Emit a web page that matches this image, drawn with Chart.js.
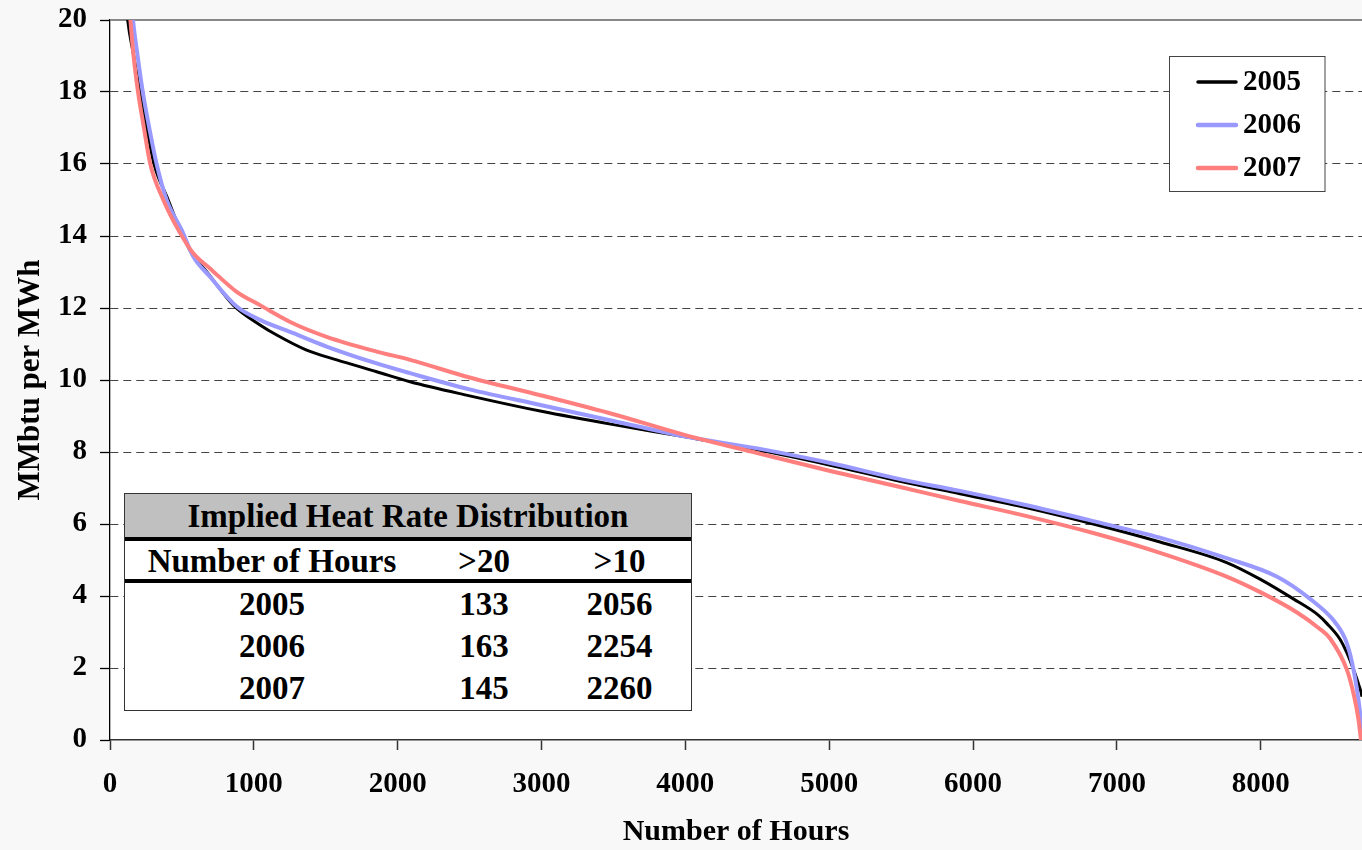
<!DOCTYPE html>
<html>
<head>
<meta charset="utf-8">
<script src="https://cdn.jsdelivr.net/npm/chart.js@4.4.1/dist/chart.umd.min.js"></script>
<style>
html, body { margin: 0; padding: 0; background: #f8f8f8; }
#wrap { position: relative; width: 1362px; height: 850px; overflow: hidden; }
canvas { display: block; }
#tbl { position: absolute; left: 124px; top: 493px; width: 568px; height: 218px; box-sizing: border-box;
  border: 1.5px solid #333; background: #fff; color: #000;
  font-family: 'Liberation Serif', 'Times New Roman', serif; font-weight: bold; font-size: 33px; }
#tbl .hdr { height: 43px; line-height: 45px; background: #c0c0c0; text-align: center; }
#tbl .rule { height: 4px; background: #000; }
#tbl .row { display: flex; }
#tbl .row div { text-align: center; }
#tbl .c1 { width: 294px; }
#tbl .c2 { width: 130px; }
#tbl .c3 { width: 141px; }
</style>
</head>
<body>
<div id="wrap">
  <canvas id="c" width="1362" height="850"></canvas>
  <div id="tbl"></div>
</div>
<script>
// ---- data ----
const seriesLabels = ['2005', '2006', '2007'];

const hours2005 = [90, 123, 165, 208, 255, 306, 405, 487, 568, 672, 857, 1043, 1159, 1367, 1576, 1854, 2086, 2500, 3000, 3500, 4000, 4500, 5000, 5500, 5909, 6373, 6836, 7300, 7763, 7995, 8227, 8400, 8459, 8551, 8600, 8650, 8680, 8704, 8740];
const mmbtu2005 = [21.5, 20, 19, 18, 17, 16, 15, 14.17, 13.52, 13.01, 12.08, 11.53, 11.25, 10.83, 10.56, 10.23, 9.95, 9.56, 9.13, 8.76, 8.42, 8.06, 7.64, 7.18, 6.84, 6.45, 6.00, 5.50, 4.93, 4.47, 3.92, 3.47, 3.24, 2.80, 2.41, 1.90, 1.55, 1.2, 0];

const hours2006 = [130, 160, 192, 228, 273, 324, 394, 498, 579, 695, 881, 1043, 1275, 1506, 1854, 2086, 2500, 3000, 3500, 4000, 4500, 5000, 5500, 5909, 6373, 6836, 7300, 7763, 8111, 8343, 8505, 8586, 8620, 8650, 8680, 8712];
const mmbtu2006 = [21.5, 20, 19, 18, 17, 16, 15, 14.17, 13.43, 12.87, 12.04, 11.67, 11.30, 10.93, 10.46, 10.19, 9.74, 9.30, 8.86, 8.43, 8.10, 7.70, 7.24, 6.92, 6.52, 6.08, 5.62, 5.05, 4.54, 3.92, 3.33, 2.82, 2.40, 1.85, 1.10, 0];

const hours2007 = [115, 142, 164, 195, 236, 280, 371, 475, 579, 695, 881, 1043, 1275, 1506, 1854, 2086, 2500, 3000, 3500, 4000, 4500, 5000, 5500, 5909, 6373, 6836, 7300, 7763, 8000, 8250, 8400, 8482, 8600, 8650, 8680, 8697];
const mmbtu2007 = [21.5, 20, 19, 18, 17, 16, 15, 14.17, 13.52, 13.1, 12.45, 12.08, 11.57, 11.20, 10.79, 10.56, 10.07, 9.57, 9.05, 8.47, 7.97, 7.48, 7.02, 6.64, 6.22, 5.75, 5.20, 4.54, 4.10, 3.55, 3.12, 2.82, 1.94, 1.20, 0.56, 0];

const xTickValues = [0, 1000, 2000, 3000, 4000, 5000, 6000, 7000, 8000];
const yTickValues = [0, 2, 4, 6, 8, 10, 12, 14, 16, 18, 20];

// table
const tableTitle = 'Implied Heat Rate Distribution';
const tableHeaders = ['Number of Hours', '>20', '>10'];
const tableYears = ['2005', '2006', '2007'];
const hoursOver20 = [133, 163, 145];
const hoursOver10 = [2056, 2254, 2260];

// ---- table (HTML) ----
(function buildTable() {
  const t = document.getElementById('tbl');
  let html = '<div class="hdr">' + tableTitle + '</div><div class="rule"></div>';
  html += '<div class="row" style="height:38px;line-height:40px">' +
    tableHeaders.map((h, i) => '<div class="c' + (i + 1) + '">' + h.replace('>', '&gt;') + '</div>').join('') + '</div>';
  html += '<div class="rule"></div>';
  tableYears.forEach((y, i) => {
    html += '<div class="row" style="height:42px;line-height:43px"><div class="c1">' + y + '</div><div class="c2">' +
      hoursOver20[i] + '</div><div class="c3">' + hoursOver10[i] + '</div></div>';
  });
  t.innerHTML = html;
})();

// ---- chart ----
const FONT_FAMILY = "'Liberation Serif', 'Times New Roman', serif";
const tickFont = { family: FONT_FAMILY, size: 29, weight: 'bold' };

const bgPlugin = {
  id: 'bg',
  beforeDraw(chart) {
    const { ctx, chartArea: a } = chart;
    ctx.save();
    ctx.fillStyle = '#f8f8f8';
    ctx.fillRect(0, 0, chart.width, chart.height);
    ctx.fillStyle = '#ffffff';
    ctx.fillRect(a.left, a.top, a.right - a.left, a.bottom - a.top);
    ctx.restore();
  },
  beforeDatasetsDraw(chart) {
    const { ctx, chartArea: a } = chart;
    ctx.save();
    ctx.strokeStyle = '#888888';
    ctx.lineWidth = 2;
    ctx.beginPath();
    ctx.moveTo(a.left, a.top);
    ctx.lineTo(a.right, a.top);
    ctx.stroke();
    ctx.restore();
  }
};

const legendPlugin = {
  id: 'boxLegend',
  afterDatasetsDraw(chart) {
    const ctx = chart.ctx;
    const bx = 1169.5, by = 56.5, bw = 155.5, bh = 135;
    ctx.save();
    ctx.fillStyle = '#ffffff';
    ctx.fillRect(bx, by, bw, bh);
    ctx.strokeStyle = '#444444';
    ctx.lineWidth = 1;
    ctx.strokeRect(bx, by, bw, bh);
    const rows = [82, 125, 168];
    chart.data.datasets.forEach((ds, i) => {
      const y = rows[i];
      ctx.strokeStyle = ds.borderColor;
      ctx.lineWidth = ds.borderWidth + 0.5;
      ctx.lineCap = 'round';
      ctx.beginPath();
      ctx.moveTo(1198, y);
      ctx.lineTo(1236, y);
      ctx.stroke();
      ctx.fillStyle = '#000';
      ctx.font = 'bold 29px ' + FONT_FAMILY;
      ctx.textAlign = 'left';
      ctx.textBaseline = 'middle';
      ctx.fillText(ds.label, 1243, y + 1);
    });
    ctx.restore();
  }
};

function toPoints(xs, ys) { return xs.map((x, i) => ({ x: x, y: ys[i] })); }

new Chart(document.getElementById('c'), {
  type: 'line',
  data: {
    datasets: [
      { label: seriesLabels[0], data: toPoints(hours2005, mmbtu2005), borderColor: '#000000', borderWidth: 3, order: 3 },
      { label: seriesLabels[1], data: toPoints(hours2006, mmbtu2006), borderColor: '#9999ff', borderWidth: 4, order: 2 },
      { label: seriesLabels[2], data: toPoints(hours2007, mmbtu2007), borderColor: '#ff7f7f', borderWidth: 4, order: 1 }
    ]
  },
  options: {
    responsive: false,
    animation: false,
    devicePixelRatio: 1,
    layout: { padding: { top: 20, right: 0, bottom: 0, left: 0 } },
    elements: { point: { radius: 0 }, line: { cubicInterpolationMode: 'monotone', fill: false } },
    plugins: { legend: { display: false }, tooltip: { enabled: false } },
    scales: {
      x: {
        type: 'linear', min: 0, max: 8704,
        afterBuildTicks: s => { s.ticks = xTickValues.map(v => ({ value: v })); },
        afterFit: s => { s.height = 110; s.paddingLeft = 0; s.paddingRight = 0; },
        ticks: { padding: 17, color: '#000', font: tickFont, maxRotation: 0, minRotation: 0, autoSkip: false,
          callback: v => String(v) },
        grid: { drawOnChartArea: false, drawTicks: true, tickLength: 10, tickColor: '#333', tickWidth: 1.5 },
        border: { display: true, color: '#333', width: 1.5 },
        title: { display: true, text: 'Number of Hours', color: '#000',
          font: { family: FONT_FAMILY, size: 30, weight: 'bold' }, padding: { top: 0, bottom: 0 } }
      },
      y: {
        min: 0, max: 20,
        afterBuildTicks: s => { s.ticks = yTickValues.map(v => ({ value: v })); },
        afterFit: s => { s.width = 110; s.paddingTop = 0; s.paddingBottom = 0; },
        ticks: { padding: 13, color: '#000', font: tickFont, autoSkip: false, callback: v => String(v) },
        grid: {
          color: c => (c.tick && (c.tick.value === 0 || c.tick.value === 20)) ? 'rgba(0,0,0,0)' : '#444444',
          lineWidth: 1, tickLength: 10, tickColor: '#000', tickWidth: 1.3, tickBorderDash: []
        },
        border: { display: true, color: '#000', width: 1.3, dash: [8, 5] },
        title: { display: true, text: 'MMbtu per MWh', color: '#000',
          font: { family: FONT_FAMILY, size: 31, weight: 'bold' }, padding: { top: 12, bottom: 0 } }
      }
    }
  },
  plugins: [bgPlugin, legendPlugin]
});
</script>
</body>
</html>
